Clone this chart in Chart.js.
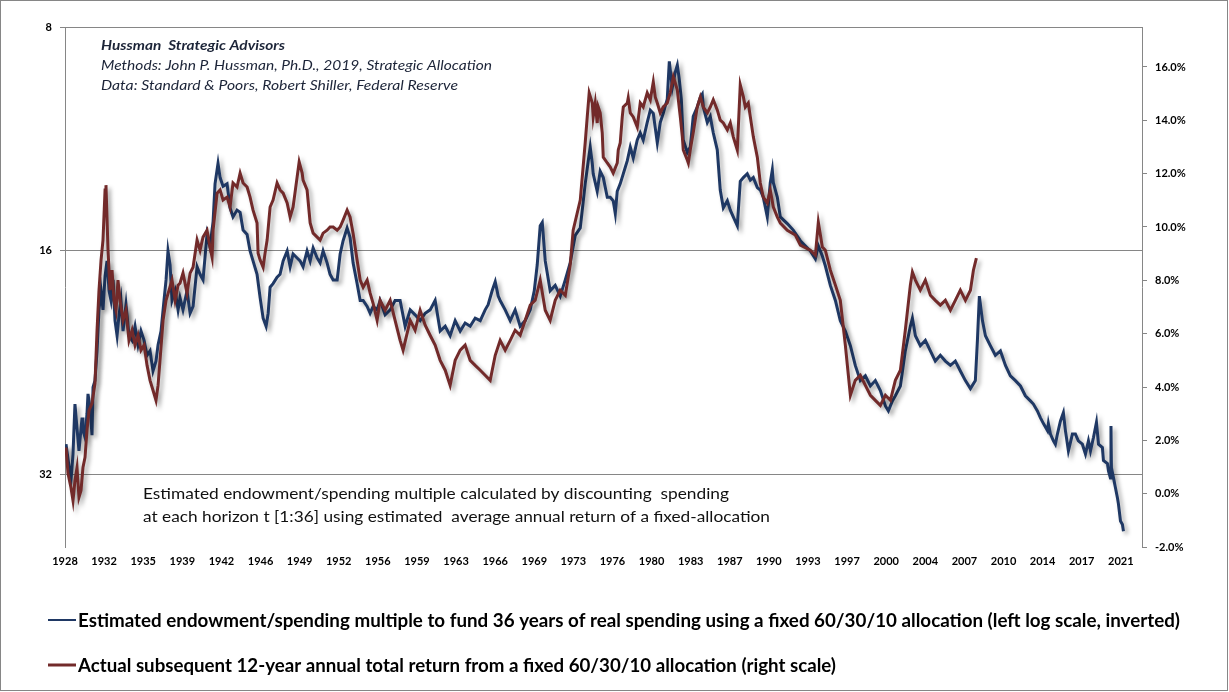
<!DOCTYPE html>
<html>
<head>
<meta charset="utf-8">
<script src="https://cdn.jsdelivr.net/npm/chart.js@4.4.1/dist/chart.umd.min.js"></script>
<style>
    html, body { margin: 0; padding: 0; background: #fff; }
    #wrap { position: relative; width: 1229px; height: 692px; }
</style>
</head>
<body>
<div id="wrap"><canvas id="endowChart"></canvas></div>
<script>
/* ======================================================
   DATA
====================================================== */
const xLabels = ['1928', '1932', '1935', '1939', '1942', '1946', '1949', '1952', '1956', '1959',
    '1963', '1966', '1969', '1973', '1976', '1980', '1983', '1987', '1990', '1993',
    '1997', '2000', '2004', '2007', '2010', '2014', '2017', '2021'];
const firstLabelYear = 1928.9;   // labels are one every 41 months
const labelStepMonths = 41;
const leftTicks = [8, 16, 32];

const headerLines = [
    'Hussman  Strategic Advisors',
    'Methods: John P. Hussman, Ph.D., 2019, Strategic Allocation',
    'Data: Standard & Poors, Robert Shiller, Federal Reserve'
];
const noteLines = [
    'Estimated endowment/spending multiple calculated by discounting  spending',
    'at each horizon t [1:36] using estimated  average annual return of a fixed-allocation'
];
const legendLabels = [
    'Estimated endowment/spending multiple to fund 36 years of real spending using a fixed 60/30/10 allocation (left log scale, inverted)',
    'Actual subsequent 12-year annual total return from a fixed 60/30/10 allocation (right scale)'
];

// endowment/spending multiple (left log axis, inverted)
const blueYears = [
    1928.99, 1929.16, 1929.42, 1929.60, 1929.77, 1929.95, 1930.12, 1930.39, 1930.47, 1930.65,
    1930.82, 1930.91, 1931.09, 1931.26, 1931.35, 1931.52, 1931.70, 1931.87, 1932.05, 1932.22,
    1932.40, 1932.57, 1932.75, 1932.92, 1933.10, 1933.27, 1933.45, 1933.62, 1933.79, 1933.97,
    1934.23, 1934.49, 1934.76, 1935.02, 1935.28, 1935.54, 1935.81, 1936.07, 1936.33, 1936.59,
    1936.85, 1937.03, 1937.29, 1937.55, 1937.73, 1937.90, 1938.08, 1938.25, 1938.52, 1938.78,
    1938.95, 1939.21, 1939.56, 1939.83, 1940.09, 1940.44, 1940.70, 1940.96, 1941.31, 1941.57,
    1941.84, 1942.01, 1942.27, 1942.45, 1942.71, 1943.06, 1943.32, 1943.58, 1943.93, 1944.20,
    1944.46, 1944.81, 1945.07, 1945.33, 1945.68, 1945.95, 1946.21, 1946.47, 1946.65, 1946.82,
    1947.08, 1947.43, 1947.69, 1947.96, 1948.31, 1948.57, 1948.83, 1949.18, 1949.44, 1949.70,
    1950.05, 1950.32, 1950.58, 1950.93, 1951.19, 1951.45, 1951.80, 1952.06, 1952.33, 1952.68,
    1952.94, 1953.20, 1953.55, 1953.81, 1954.07, 1954.42, 1954.69, 1954.95, 1955.30, 1955.56,
    1955.82, 1956.17, 1956.43, 1956.87, 1957.31, 1957.74, 1958.18, 1958.62, 1959.06, 1959.49,
    1959.93, 1960.37, 1960.80, 1961.24, 1961.68, 1962.12, 1962.55, 1962.99, 1963.43, 1963.86,
    1964.30, 1964.74, 1965.18, 1965.61, 1965.87, 1966.22, 1966.49, 1966.75, 1966.92, 1967.36,
    1967.80, 1968.23, 1968.67, 1969.11, 1969.55, 1969.90, 1970.16, 1970.42, 1970.60, 1970.86,
    1971.29, 1971.73, 1972.17, 1972.61, 1973.04, 1973.48, 1973.92, 1974.35, 1974.62, 1974.79,
    1974.97, 1975.05, 1975.40, 1975.66, 1975.93, 1976.28, 1976.54, 1976.80, 1976.98, 1977.15,
    1977.41, 1977.68, 1978.03, 1978.29, 1978.55, 1978.90, 1979.16, 1979.42, 1979.77, 1980.04,
    1980.30, 1980.65, 1980.91, 1981.17, 1981.52, 1981.70, 1981.96, 1982.22, 1982.40, 1982.57,
    1982.75, 1982.92, 1983.27, 1983.53, 1983.79, 1984.14, 1984.41, 1984.58, 1984.67, 1985.02,
    1985.28, 1985.54, 1985.89, 1986.15, 1986.42, 1986.77, 1987.03, 1987.29, 1987.64, 1987.90,
    1988.17, 1988.51, 1988.78, 1989.04, 1989.39, 1989.65, 1989.91, 1990.26, 1990.52, 1990.70,
    1990.79, 1991.14, 1991.40, 1992.01, 1992.53, 1993.15, 1993.58, 1994.02, 1994.46, 1994.72,
    1995.07, 1995.33, 1995.77, 1996.21, 1996.64, 1997.08, 1997.52, 1997.95, 1998.39, 1998.83,
    1999.27, 1999.70, 2000.14, 2000.58, 2000.84, 2001.19, 2001.45, 2001.89, 2002.32, 2002.76,
    2002.94, 2003.20, 2003.63, 2004.07, 2004.51, 2004.94, 2005.38, 2005.82, 2006.26, 2006.69,
    2007.13, 2007.57, 2008.01, 2008.44, 2008.62, 2008.79, 2009.06, 2009.32, 2009.75, 2010.19,
    2010.63, 2011.07, 2011.50, 2011.94, 2012.38, 2012.81, 2013.25, 2013.51, 2013.86, 2014.12,
    2014.39, 2014.74, 2014.82, 2015.00, 2015.26, 2015.43, 2015.61, 2015.87, 2016.13, 2016.31,
    2016.57, 2016.92, 2017.18, 2017.44, 2017.79, 2018.06, 2018.32, 2018.50, 2018.76, 2019.02,
    2019.20, 2019.54, 2019.63, 2019.98, 2020.07, 2020.24, 2020.29, 2020.33, 2020.51, 2020.68,
    2020.86, 2020.94, 2021.12, 2021.29, 2021.38
];
const blueMultiple = [
    29.1, 30.4, 32.6, 30.0, 25.7, 27.7, 29.7, 26.8, 27.9, 28.5,
    26.5, 24.9, 26.0, 28.3, 24.4, 23.9, 21.8, 19.2, 18.1, 19.2,
    17.3, 16.5, 18.1, 18.65, 17.5, 19.85, 20.8, 19.5, 18.65, 20.5,
    18.9, 20.8, 21.1, 20.2, 21.4, 20.5, 21.1, 22.1, 21.8, 23.2,
    22.5, 21.4, 20.5, 18.65, 17.5, 16.0, 16.7, 18.65, 18.1, 19.2,
    18.5, 19.2, 18.1, 19.4, 19.0, 16.8, 17.2, 17.5, 15.2, 15.8,
    14.6, 13.0, 12.2, 12.75, 13.1, 13.0, 14.0, 14.4, 14.1, 14.2,
    15.0, 15.2, 16.0, 16.5, 17.2, 18.5, 19.7, 20.2, 19.4, 17.9,
    17.7, 17.35, 17.2, 16.5, 16.0, 16.8, 16.15, 16.35, 16.5, 16.8,
    16.0, 16.5, 15.85, 16.35, 16.6, 16.0, 16.6, 17.2, 17.5, 17.5,
    16.15, 15.5, 14.9, 15.35, 16.6, 17.7, 18.65, 18.65, 19.0, 19.4,
    19.0, 19.2, 18.65, 19.5, 19.2, 18.65, 18.65, 20.2, 19.2, 19.5,
    19.85, 19.4, 19.2, 18.65, 20.5, 20.2, 20.8, 19.85, 20.5, 20.0,
    20.2, 19.7, 19.85, 19.2, 18.9, 18.1, 17.6, 18.4, 18.65, 19.2,
    19.85, 19.2, 20.2, 19.85, 19.2, 18.1, 16.7, 14.8, 14.65, 16.5,
    18.1, 17.8, 18.4, 17.5, 16.6, 15.25, 14.9, 13.0, 12.1, 11.6,
    12.2, 12.6, 13.3, 12.5, 12.75, 13.55, 13.55, 13.7, 14.25, 13.3,
    13.0, 12.6, 12.1, 11.6, 12.0, 11.35, 11.1, 11.35, 10.75, 10.35,
    10.45, 11.45, 10.75, 10.45, 10.0, 8.9, 9.65, 9.2, 9.0, 9.4,
    10.0, 11.35, 11.8, 11.6, 10.55, 10.25, 9.95, 9.85, 10.25, 10.75,
    10.55, 11.1, 11.7, 13.25, 14.0, 13.7, 14.1, 14.4, 14.8, 12.9,
    12.75, 12.6, 12.85, 12.75, 13.15, 13.25, 13.55, 14.4, 12.95, 12.45,
    12.95, 13.55, 14.4, 14.7, 15.0, 15.5, 15.75, 16.0, 16.4, 15.75,
    16.25, 16.75, 17.8, 18.65, 19.85, 20.5, 21.45, 22.8, 23.9, 23.55,
    24.3, 23.9, 24.65, 25.85, 26.25, 25.45, 25.05, 24.3, 21.8, 20.2,
    19.7, 20.8, 21.45, 21.1, 21.8, 22.5, 22.1, 22.5, 22.8, 22.5,
    23.2, 23.9, 24.5, 23.9, 21.1, 18.4, 19.85, 20.8, 21.45, 22.1,
    21.8, 22.8, 23.55, 23.9, 24.3, 25.05, 25.45, 25.7, 26.25, 26.8,
    27.3, 27.9, 27.3, 28.2, 28.8, 29.1, 28.2, 27.1, 26.4, 27.9,
    29.7, 28.2, 28.2, 28.8, 29.1, 30.0, 28.8, 29.7, 28.5, 27.2,
    29.1, 29.4, 30.6, 30.9, 31.6, 32.3, 27.5, 31.3, 32.3, 33.3,
    34.4, 35.0, 36.9, 37.3, 38.1
];

// subsequent 12-year annual total return, % (right axis)
const redYears = [
    1928.99, 1929.16, 1929.42, 1929.60, 1929.77, 1929.95, 1930.12, 1930.30, 1930.47, 1930.65,
    1930.82, 1931.00, 1931.26, 1931.52, 1931.70, 1931.87, 1932.05, 1932.22, 1932.40, 1932.48,
    1932.66, 1932.83, 1933.01, 1933.18, 1933.36, 1933.53, 1933.71, 1933.97, 1934.23, 1934.49,
    1934.76, 1935.02, 1935.28, 1935.54, 1935.81, 1936.07, 1936.33, 1936.59, 1936.85, 1937.03,
    1937.20, 1937.47, 1937.73, 1937.99, 1938.25, 1938.52, 1938.78, 1938.95, 1939.21, 1939.56,
    1939.83, 1940.09, 1940.44, 1940.70, 1940.96, 1941.31, 1941.57, 1941.75, 1941.84, 1942.19,
    1942.45, 1942.71, 1943.06, 1943.32, 1943.58, 1943.93, 1944.20, 1944.46, 1944.81, 1945.07,
    1945.33, 1945.68, 1945.77, 1945.95, 1946.21, 1946.38, 1946.56, 1946.82, 1947.08, 1947.43,
    1947.69, 1947.96, 1948.31, 1948.57, 1948.83, 1949.18, 1949.36, 1949.62, 1949.70, 1950.05,
    1950.32, 1950.58, 1950.93, 1951.19, 1951.45, 1951.80, 1952.06, 1952.33, 1952.68, 1952.94,
    1953.20, 1953.55, 1953.81, 1954.07, 1954.42, 1954.69, 1954.95, 1955.30, 1955.56, 1955.82,
    1956.17, 1956.43, 1956.87, 1957.31, 1957.74, 1958.18, 1958.44, 1959.06, 1959.49, 1959.93,
    1960.37, 1960.80, 1961.24, 1961.68, 1962.12, 1962.55, 1962.99, 1963.43, 1963.86, 1964.30,
    1964.74, 1965.18, 1965.61, 1966.05, 1966.49, 1966.92, 1967.36, 1967.80, 1968.23, 1968.67,
    1969.11, 1969.55, 1969.98, 1970.42, 1970.86, 1971.29, 1971.73, 1972.17, 1972.61, 1973.04,
    1973.30, 1973.92, 1974.35, 1974.53, 1974.70, 1974.97, 1975.05, 1975.23, 1975.40, 1975.49,
    1975.66, 1975.84, 1975.93, 1976.28, 1976.54, 1976.80, 1977.15, 1977.24, 1977.41, 1977.59,
    1977.68, 1978.03, 1978.11, 1978.29, 1978.55, 1978.90, 1979.16, 1979.42, 1979.77, 1980.04,
    1980.30, 1980.47, 1980.65, 1980.91, 1981.17, 1981.52, 1981.78, 1982.05, 1982.22, 1982.40,
    1982.49, 1982.66, 1982.84, 1982.92, 1983.27, 1983.36, 1983.53, 1983.79, 1984.14, 1984.41,
    1984.67, 1985.02, 1985.28, 1985.54, 1985.89, 1986.15, 1986.42, 1986.77, 1987.03, 1987.29,
    1987.64, 1987.90, 1988.17, 1988.34, 1988.60, 1988.78, 1989.04, 1989.39, 1989.65, 1989.91,
    1990.26, 1990.52, 1990.79, 1991.14, 1991.40, 1992.01, 1992.71, 1993.15, 1994.02, 1994.46,
    1994.72, 1995.07, 1995.33, 1995.77, 1996.21, 1996.64, 1997.08, 1997.52, 1997.95, 1998.39,
    1998.83, 1999.27, 1999.70, 2000.14, 2000.58, 2001.02, 2001.45, 2001.89, 2002.32, 2002.76,
    2002.94, 2003.20, 2003.63, 2004.07, 2004.51, 2004.94, 2005.38, 2005.82, 2006.26, 2006.69,
    2007.13, 2007.57, 2008.01, 2008.27, 2008.53
];
const redReturn = [
    1.73, 0.76, 0.23, -0.26, 0.50, 0.98, -0.14, 0.12, 0.98, 1.36,
    2.37, 3.12, 3.39, 4.14, 6.13, 7.63, 8.76, 9.51, 11.39, 11.57,
    9.13, 7.63, 8.38, 7.25, 6.88, 8.01, 7.25, 6.50, 6.88, 5.75,
    6.13, 5.57, 5.94, 5.38, 5.57, 4.81, 4.25, 3.88, 3.50, 4.06,
    5.00, 6.50, 7.25, 7.63, 8.01, 7.25, 7.82, 7.89, 8.27, 7.52,
    8.27, 8.49, 9.51, 9.13, 9.62, 9.88, 9.25, 8.87, 9.88, 11.27,
    11.39, 11.01, 11.12, 10.75, 11.65, 11.50, 12.02, 11.65, 11.50, 11.12,
    10.63, 10.15, 9.02, 8.76, 8.49, 9.02, 9.51, 10.75, 11.01, 11.65,
    11.39, 11.27, 10.90, 10.37, 10.75, 11.87, 12.44, 12.02, 11.76, 11.39,
    10.15, 9.77, 9.62, 9.51, 9.77, 9.88, 10.00, 10.00, 9.88, 10.00,
    10.26, 10.63, 10.37, 9.77, 8.76, 8.01, 7.74, 8.01, 7.52, 7.14,
    6.50, 7.25, 6.88, 7.25, 6.50, 5.75, 5.38, 6.50, 6.13, 6.88,
    6.32, 5.94, 5.57, 5.00, 4.63, 4.06, 5.00, 5.38, 5.57, 5.00,
    4.81, 4.63, 4.44, 4.25, 5.19, 5.75, 5.38, 5.75, 6.13, 5.94,
    6.50, 7.07, 7.25, 8.01, 6.88, 6.50, 7.25, 7.63, 7.44, 8.57,
    9.88, 11.01, 13.15, 14.13, 15.03, 14.65, 14.13, 14.65, 13.90, 14.50,
    14.28, 13.53, 12.62, 12.40, 12.25, 12.02, 12.40, 12.89, 13.15, 14.13,
    14.50, 14.65, 14.84, 14.28, 14.13, 13.75, 14.65, 14.50, 15.03, 14.77,
    15.44, 14.88, 14.65, 14.28, 14.50, 14.65, 15.03, 15.63, 15.40, 15.14,
    14.77, 14.13, 13.38, 12.89, 12.51, 12.40, 12.89, 13.53, 14.50, 14.88,
    14.50, 14.28, 14.50, 14.77, 14.39, 14.01, 13.90, 13.64, 13.90, 13.38,
    12.89, 15.33, 14.88, 14.50, 14.65, 14.13, 13.38, 12.62, 11.65, 11.12,
    10.90, 11.39, 10.75, 10.37, 10.15, 9.88, 9.70, 9.32, 9.13, 8.94,
    10.18, 9.25, 9.13, 8.38, 7.82, 7.25, 5.57, 3.69, 4.25, 4.44,
    4.06, 3.69, 3.50, 3.31, 3.69, 3.50, 4.25, 4.63, 6.13, 7.82,
    8.31, 8.01, 7.63, 8.01, 7.44, 7.25, 7.07, 7.25, 6.88, 7.25,
    7.63, 7.25, 7.63, 8.38, 8.83
];

/* ======================================================
   STYLE
====================================================== */
const BLUE = '#1f3864';
const RED = '#722a2a';
const AXIS_GREY = '#868686';
const TICK_FONT = { family: 'Lato, "Open Sans", sans-serif', size: 11, weight: 'bold' };

const toPoints = (xs, ys) => xs.map((x, i) => ({ x: x, y: ys[i] }));

// draw text squeezed/stretched to a given width (the original uses Calibri)
function fitText(ctx, text, x, y, width, font, color) {
    ctx.save();
    ctx.font = font;
    ctx.fillStyle = color;
    ctx.textBaseline = 'alphabetic';
    ctx.textAlign = 'left';
    const w = ctx.measureText(text).width;
    ctx.translate(x, y);
    ctx.scale(width / w, 1);
    ctx.fillText(text, 0, 0);
    ctx.restore();
}

/* ======================================================
   PLUGINS
====================================================== */
const lineShadow = {
    id: 'lineShadow',
    beforeDatasetsDraw(chart) {
        const c = chart.ctx;
        c.save();
        c.shadowColor = 'rgba(0,0,0,0.35)';
        c.shadowBlur = 4;
        c.shadowOffsetX = 3;
        c.shadowOffsetY = 3;
    },
    afterDatasetsDraw(chart) {
        chart.ctx.restore();
    }
};

const annotations = {
    id: 'annotations',
    afterDraw(chart) {
        const c = chart.ctx;
        const txt = '#1c2438';

        // header block
        fitText(c, headerLines[0], 101, 50, 184, 'italic bold 13px Lato, sans-serif', txt);
        fitText(c, headerLines[1], 101, 70, 391, 'italic 13px Lato, sans-serif', txt);
        fitText(c, headerLines[2], 101, 90, 357, 'italic 13px Lato, sans-serif', txt);

        // note inside the plot
        fitText(c, noteLines[0], 143, 499, 586, '16px Lato, sans-serif', '#111');
        fitText(c, noteLines[1], 143, 522, 627, '16px Lato, sans-serif', '#111');

        // legend
        const rows = [
            { y: 620, color: BLUE, lw: 2, width: 1102 },
            { y: 665, color: RED, lw: 3, width: 758 }
        ];
        rows.forEach((r, i) => {
            c.save();
            c.strokeStyle = r.color;
            c.lineWidth = r.lw;
            c.beginPath();
            c.moveTo(48, r.y);
            c.lineTo(76, r.y);
            c.stroke();
            c.restore();
            fitText(c, legendLabels[i], 78, r.y + 7, r.width, 'bold 18px Lato, sans-serif', '#000');
        });

        // outer frame
        c.save();
        c.strokeStyle = AXIS_GREY;
        c.lineWidth = 1;
        c.strokeRect(0.5, 0.5, 1227, 690);
        c.restore();
    }
};

/* ======================================================
   CHART
====================================================== */
const ctx = document.getElementById('endowChart').getContext('2d');

new Chart(ctx, {
    type: 'line',
    data: {
        datasets: [
            {
                label: legendLabels[0],
                data: toPoints(blueYears, blueMultiple),
                yAxisID: 'yLeft',
                borderColor: BLUE,
                borderWidth: 3,
                pointRadius: 0,
                tension: 0,
                order: 1
            },
            {
                label: legendLabels[1],
                data: toPoints(redYears, redReturn),
                yAxisID: 'yRight',
                borderColor: RED,
                borderWidth: 3,
                pointRadius: 0,
                tension: 0,
                order: 0
            }
        ]
    },
    options: {
        responsive: true,
        maintainAspectRatio: false,
        animation: false,
        layout: { padding: { top: 27, left: 0, right: 0, bottom: 0 } },
        plugins: {
            legend: { display: false },
            tooltip: { enabled: false }
        },
        scales: {
            x: {
                type: 'linear',
                min: 1928.9,
                max: 2023.0,
                grid: { display: false, drawTicks: false },
                border: { display: false },
                afterBuildTicks: scale => {
                    scale.ticks = xLabels.map((l, i) => ({
                        value: firstLabelYear + i * labelStepMonths / 12
                    }));
                },
                afterFit: scale => { scale.height = 145; },
                ticks: {
                    autoSkip: false,
                    maxRotation: 0,
                    padding: 8,
                    color: '#000',
                    font: TICK_FONT,
                    callback: (v, i) => xLabels[i]
                }
            },
            yLeft: {
                type: 'logarithmic',
                position: 'left',
                reverse: true,
                min: 8,
                max: 40,
                afterBuildTicks: scale => {
                    scale.ticks = leftTicks.map(v => ({ value: v }));
                },
                afterFit: scale => { scale.width = 65; },
                grid: {
                    color: AXIS_GREY,
                    lineWidth: 1,
                    drawTicks: true,
                    tickLength: 5
                },
                border: { display: true, color: AXIS_GREY, width: 1 },
                ticks: {
                    padding: 8,
                    color: '#000',
                    font: TICK_FONT,
                    callback: v => String(v)
                }
            },
            yRight: {
                type: 'linear',
                position: 'right',
                min: -2,
                max: 17.5,
                afterFit: scale => { scale.width = 87; },
                grid: {
                    drawOnChartArea: false,
                    drawTicks: true,
                    tickLength: 5,
                    color: AXIS_GREY
                },
                border: { display: true, color: AXIS_GREY, width: 1 },
                ticks: {
                    stepSize: 2,
                    includeBounds: false,
                    padding: 8,
                    color: '#000',
                    font: TICK_FONT,
                    callback: v => v.toFixed(1) + '%'
                }
            }
        }
    },
    plugins: [lineShadow, annotations]
});
</script>
</body>
</html>
